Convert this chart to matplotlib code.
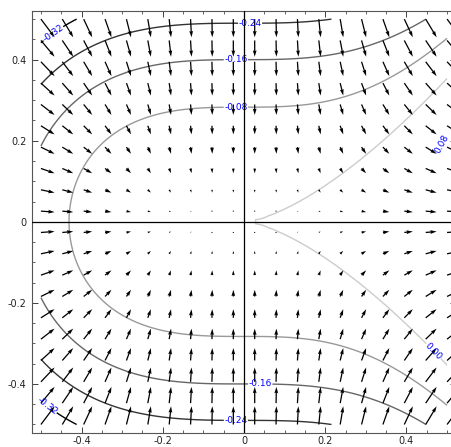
import numpy as np
import matplotlib
matplotlib.use("Agg")
import matplotlib.pyplot as plt
from matplotlib.ticker import FixedLocator, MultipleLocator, FuncFormatter

plt.rcParams['axes.unicode_minus'] = False
plt.rcParams['font.family'] = ['DejaVu Sans']

# function f(x, y) = x^3 - y^2 and its gradient field (3x^2, -2y)
x_range = [-0.5, 0.5]
y_range = [-0.5, 0.5]
field_points = 20
contour_points = 100
contour_levels = [-0.32, -0.24, -0.16, -0.08, 0.00, 0.08]
major_ticks = [-0.4, -0.2, 0.0, 0.2, 0.4]
label_positions = [(-0.47, 0.465), (-0.485, -0.453),
                   (0.015, 0.49), (-0.02, -0.494),
                   (-0.02, 0.40), (0.04, -0.40),
                   (-0.02, 0.283), (0.466, -0.32), (0.49, 0.19)]


def f(x, y):
    return x**3 - y**2


def grad(x, y):
    return 3 * x**2, -2 * y


W, H, DPI = 451, 447, 100
fig = plt.figure(figsize=(W / DPI, H / DPI), dpi=DPI)
ax = fig.add_axes([32 / W, (H - 433) / H, 424 / W, 422 / H])

# contours
cx = np.linspace(*x_range, contour_points)
cy = np.linspace(*y_range, contour_points)
CX, CY = np.meshgrid(cx, cy)
cs = ax.contour(CX, CY, f(CX, CY), levels=contour_levels, cmap='gray',
                linewidths=1.0, zorder=2)
ax.clabel(cs, fmt='%1.2f', colors='blue', fontsize=6.5, inline=True,
          inline_spacing=1, manual=label_positions)

# vector field
vx = np.linspace(*x_range, field_points)
vy = np.linspace(*y_range, field_points)
VX, VY = np.meshgrid(vx, vy)
U, V = grad(VX, VY)
ax.quiver(VX, VY, U, V, color='black', angles='xy', pivot='tail', zorder=3)

# axes through origin
ax.axhline(0, color='black', lw=0.9, zorder=4)
ax.axvline(0, color='black', lw=0.9, zorder=4)

ax.set_xlim(-0.522, 0.522)
ax.set_ylim(-0.521, 0.52)

for sp in ax.spines.values():
    sp.set_linewidth(0.8)
    sp.set_color('#555555')

fmt = FuncFormatter(lambda v, p: '0' if abs(v) < 1e-9 else ('%g' % round(v, 2)))
ax.xaxis.set_major_locator(FixedLocator(major_ticks))
ax.yaxis.set_major_locator(FixedLocator(major_ticks))
ax.xaxis.set_minor_locator(MultipleLocator(0.05))
ax.yaxis.set_minor_locator(MultipleLocator(0.05))
ax.xaxis.set_major_formatter(fmt)
ax.yaxis.set_major_formatter(fmt)
ax.tick_params(which='both', direction='in', top=True, right=True,
               labelsize=7, colors='#222222', labelcolor='#222222')
ax.tick_params(axis='x', pad=2.5)
ax.tick_params(axis='y', pad=4)
ax.tick_params(which='major', length=4, width=0.6)
ax.tick_params(which='minor', length=2, width=0.5)

fig.savefig('out.png', dpi=DPI)
